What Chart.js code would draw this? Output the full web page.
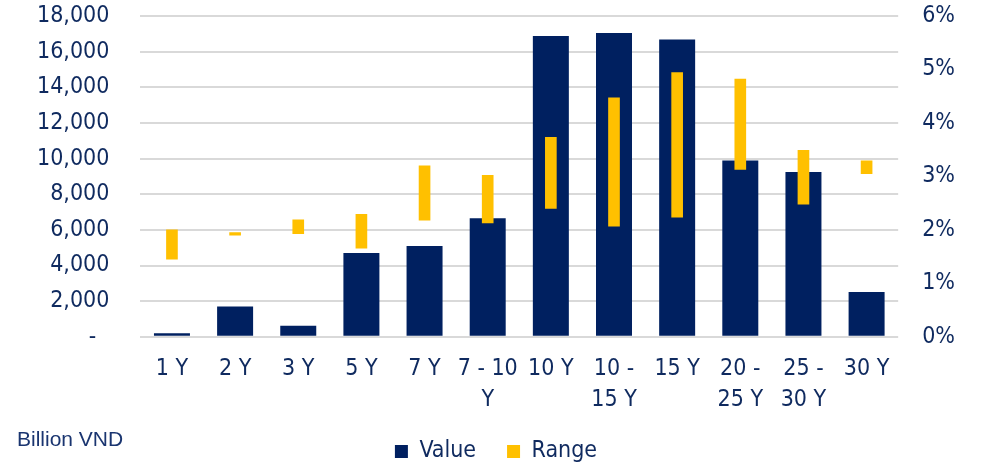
<!DOCTYPE html>
<html lang="en">
<head>
<meta charset="UTF-8">
<title>Value and Range by tenor</title>
<script src="https://cdn.jsdelivr.net/npm/chart.js"></script>
<style>
  body { margin: 0; background: #fff; }
  #wrap { position: relative; width: 983px; height: 464px; }
  #unit {
    position: absolute; left: 17px; top: 428px;
    font: 21px "Liberation Sans", Arial, sans-serif; line-height: 1;
    color: #1a3570;
  }
</style>
</head>
<body>
<div id="wrap">
  <canvas id="chart" width="983" height="464"></canvas>
  <div id="unit">Billion VND</div>
</div>
<script>
// tenors, multi-line ones as arrays
const categories = ['1 Y', '2 Y', '3 Y', '5 Y', '7 Y', ['7 - 10', 'Y'], '10 Y',
  ['10 -', '15 Y'], '15 Y', ['20 -', '25 Y'], ['25 -', '30 Y'], '30 Y'];

// value, billion VND (left axis)
const values = [200, 1700, 620, 4700, 5100, 6650, 16880, 17050, 16680, 9890, 9250, 2520];

// range, % (right axis)
const rangeLow  = [1.45, 1.90, 1.93, 1.66, 2.18, 2.13, 2.40, 2.07, 2.24, 3.13, 2.48, 3.05];
const rangeHigh = [2.00, 1.95, 2.19, 2.29, 3.20, 3.02, 3.73, 4.47, 4.94, 4.82, 3.49, 3.29];

// axis ticks
const valueTicks = [0, 2000, 4000, 6000, 8000, 10000, 12000, 14000, 16000, 18000];
const rangeTicks = [0, 1, 2, 3, 4, 5, 6];

const navy = '#002060';
const gold = '#FFC000';
const textColor = '#0f2a5f';
const font = { family: '"DejaVu Sans Condensed", "DejaVu Sans", sans-serif', size: 23, lineHeight: 1.33 };

Chart.defaults.font = font;
Chart.defaults.color = textColor;

const ranges = rangeLow.map((lo, i) => [lo, rangeHigh[i]]);

new Chart(document.getElementById('chart'), {
  type: 'bar',
  data: {
    labels: categories,
    datasets: [
      {
        label: 'Value',
        data: values,
        backgroundColor: navy,
        borderWidth: 0,
        yAxisID: 'y',
        grouped: false,
        order: 1,
        barPercentage: 0.57,
        categoryPercentage: 1
      },
      {
        label: 'Range',
        data: ranges,
        backgroundColor: gold,
        borderWidth: 0,
        yAxisID: 'y1',
        grouped: false,
        order: 0,   // drawn on top of the value bars
        barThickness: 11
      }
    ]
  },
  options: {
    responsive: false,
    animation: false,
    layout: { padding: { top: 16, left: 37, right: 28, bottom: 0 } },
    plugins: {
      tooltip: { enabled: false },
      legend: {
        position: 'bottom',
        maxHeight: 55,
        labels: {
          boxWidth: 13,
          boxHeight: 13,
          padding: 31,
          color: textColor,
          font: font,
          sort: (a, b) => a.datasetIndex - b.datasetIndex
        }
      }
    },
    scales: {
      x: {
        grid: { display: true, color: 'transparent', drawTicks: true, tickLength: 23 },
        border: { display: false },
        ticks: { padding: -6, autoSkip: false, maxRotation: 0, minRotation: 0 }
      },
      y: {
        position: 'left',
        min: 0,
        max: 18000,
        afterBuildTicks: s => { s.ticks = valueTicks.map(v => ({ value: v })); },
        grid: { color: '#d9d9d9', lineWidth: 2, drawTicks: true, tickLength: 31, tickColor: 'transparent' },
        border: { display: false },
        ticks: {
          padding: 0,
          autoSkip: false,
          callback: v => v === 0 ? '-  ' : v.toLocaleString('en-US')
        }
      },
      y1: {
        position: 'right',
        min: 0,
        max: 6,
        afterBuildTicks: s => { s.ticks = rangeTicks.map(v => ({ value: v })); },
        grid: { display: true, drawOnChartArea: false, drawTicks: true, tickLength: 24, tickColor: 'transparent' },
        border: { display: false },
        ticks: {
          padding: 0,
          autoSkip: false,
          callback: v => v + '%'
        }
      }
    }
  }
});
</script>
</body>
</html>
